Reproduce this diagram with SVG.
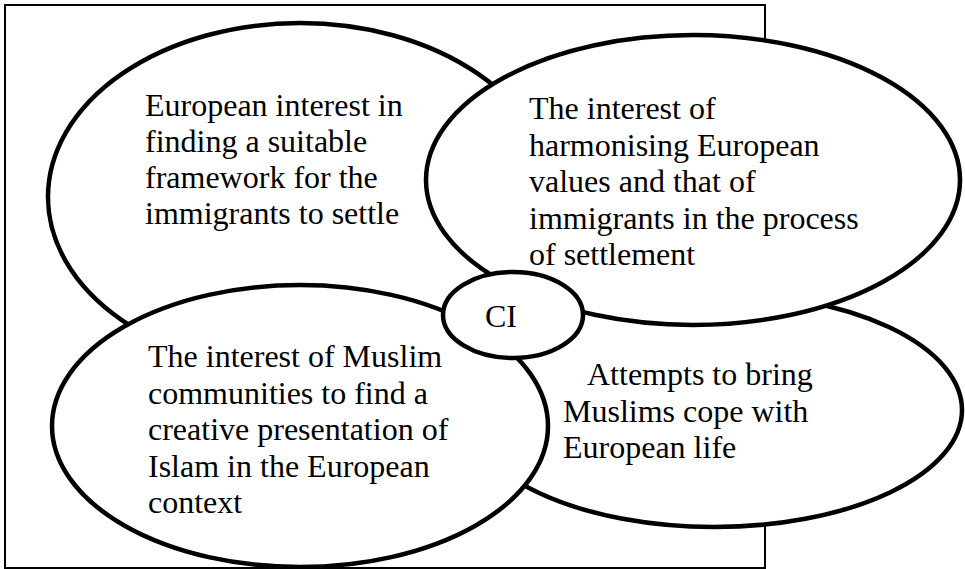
<svg xmlns="http://www.w3.org/2000/svg" width="965" height="569" viewBox="0 0 965 569">
<style>
.frame{fill:#fff;stroke:#000;stroke-width:2}
.oval{fill:#fff;stroke:#000;stroke-width:4.5}
.t{font-family:"Liberation Serif","Times New Roman",serif;font-size:32px;fill:#000}
</style>
<rect width="965" height="569" fill="#fff"/>
<rect id="frame" class="frame" x="5" y="5" width="760" height="563"/>
<g id="connectors"></g>
<g id="node-european-interest">
<ellipse class="oval" cx="300" cy="197" rx="252" ry="174"/>
<text class="t"><tspan x="145" y="116">European interest in</tspan><tspan x="145" y="152">finding a suitable</tspan><tspan x="145" y="188">framework for the</tspan><tspan x="145" y="224">immigrants to settle</tspan></text>
</g>
<g id="node-attempts">
<ellipse class="oval" cx="714" cy="410" rx="248" ry="117"/>
<text class="t"><tspan x="587" y="385">Attempts to bring</tspan><tspan x="563" y="421.5">Muslims cope with</tspan><tspan x="563" y="458">European life</tspan></text>
</g>
<g id="node-harmonising">
<ellipse class="oval" cx="693" cy="180" rx="267" ry="145"/>
<text class="t"><tspan x="529" y="119">The interest of</tspan><tspan x="529" y="155.5">harmonising European</tspan><tspan x="529" y="192">values and that of</tspan><tspan x="529" y="228.5">immigrants in the process</tspan><tspan x="529" y="265">of settlement</tspan></text>
</g>
<g id="node-muslim-communities">
<ellipse class="oval" cx="300" cy="426" rx="248" ry="141"/>
<text class="t"><tspan x="148" y="367">The interest of Muslim</tspan><tspan x="148" y="403.5">communities to find a</tspan><tspan x="148" y="440">creative presentation of</tspan><tspan x="148" y="476.5">Islam in the European</tspan><tspan x="148" y="513">context</tspan></text>
</g>
<g id="node-ci">
<ellipse class="oval" cx="513" cy="315" rx="70" ry="43"/>
<text class="t" x="485" y="327">CI</text>
</g>
</svg>
